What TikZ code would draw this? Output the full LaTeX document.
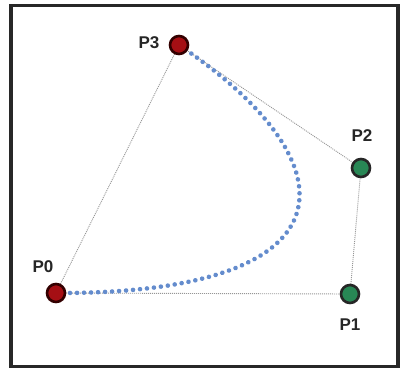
\documentclass[tikz,border=0pt]{standalone}
\usepackage{fontspec}
\setmainfont{Liberation Sans}
\usetikzlibrary{backgrounds}
\definecolor{frame}{RGB}{40,40,40}
\definecolor{curveblue}{RGB}{100,140,205}
\definecolor{guide}{RGB}{150,150,150}
\definecolor{redfill}{RGB}{165,15,20}
\definecolor{greenfill}{RGB}{40,135,85}
\tikzset{
  ctrl/.style={circle, minimum size=18pt, inner sep=0pt, line width=2.6pt, draw=black!85},
  redpt/.style={ctrl, fill=redfill, draw=black!80!red},
  greenpt/.style={ctrl, fill=greenfill},
  lbl/.style={font=\fontsize{17}{19}\selectfont\bfseries, text=black!85, inner sep=0pt},
  guideline/.style={draw=guide, line width=0.9pt, dash pattern=on 1pt off 1pt},
  bez/.style={draw=curveblue, line width=4.6pt, line cap=round, dash pattern=on 0.01pt off 7pt}
}
\begin{document}
\begin{tikzpicture}[x=1pt,y=-1pt]
\useasboundingbox (0,0) rectangle (401,373);
\draw[frame, line width=3.5pt] (11,5.5) rectangle (398,366.5);
\node[redpt] (p0) at (56,293) {};
\node[greenpt] (p1) at (350,294) {};
\node[greenpt] (p2) at (361,168) {};
\node[redpt] (p3) at (179,45) {};
\node[lbl] (l0) at (43,267) {P0};
\node[lbl] (l1) at (350,325) {P1};
\node[lbl] (l2) at (362,136) {P2};
\node[lbl] (l3) at (149,43) {P3};
\begin{scope}[on background layer]
\draw[guideline] (p0.center) -- (p1.center) -- (p2.center) -- (p3.center) -- (p0.center);
\draw[bez] (p0.center) .. controls (p1.center) and (p2.center) .. (p3.center);
\end{scope}
\end{tikzpicture}
\end{document}
